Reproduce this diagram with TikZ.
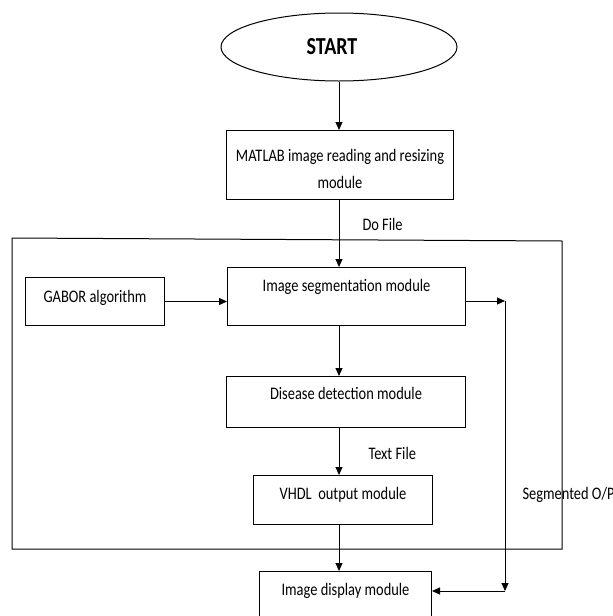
\documentclass[tikz,border=0pt]{standalone}
\usepackage{fontspec}
\setmainfont{Carlito}[FakeStretch=0.82]
\usetikzlibrary{arrows.meta,shapes.geometric}
\begin{document}
\begin{tikzpicture}[x=1pt,y=-1pt,
  line width=1pt,
  every node/.style={font=\fontsize{17.6}{21}\selectfont},
  box/.style={draw, inner sep=0pt, anchor=north west},
  lbl/.style={inner sep=0pt, anchor=base west},
  arr/.style={-{Triangle[length=8pt,width=7pt]}}]
\useasboundingbox (0,0) rectangle (613,616);
% outer frame
\draw (12,238) -- (562,241) -- (562,549) -- (12,549) -- cycle;
\node[draw, ellipse, inner sep=0pt, minimum width=236pt, minimum height=68pt,
      font=\fontsize{24.4}{28}\selectfont\bfseries] (start) at (339,47) {\kern-14pt START};
\node[box, minimum width=227pt, text height=30.5pt, text depth=38.5pt] (matlab) at (226,130)
  {\vtop{\baselineskip=27pt\hbox to 227pt{\hfil MATLAB image reading and resizing\hfil}\hbox to 227pt{\hfil module\hfil}}};
\node[box, minimum width=238pt, text height=23.5pt, text depth=34.5pt] (seg) at (227,267) {Image segmentation module};
\node[box, minimum width=139pt, text height=24.5pt, text depth=23.5pt] (gabor) at (25,277) {GABOR algorithm};
\node[box, minimum width=239pt, text height=22.5pt, text depth=28.5pt] (disease) at (226,376) {Disease detection module};
\node[box, minimum width=179pt, text height=23.5pt, text depth=25.5pt] (vhdl) at (253,475) {VHDL\ \ output module};
\node[box, minimum width=172pt, text height=23.5pt, text depth=36.5pt] (display) at (259,571) {Image display module};
\node[lbl] (dofile) at (362,230.5) {Do File};
\node[lbl] (textfile) at (368,459.5) {Text File};
\node[lbl] (segop) at (522,499.5) {Segmented O/P};
\coordinate (ax) at (339,0);
\coordinate (sp1) at (505,301);
\coordinate (sp2) at (505,591);
\draw[arr] (ax |- start.south) -- (ax |- matlab.north);
\draw[arr] (ax |- matlab.south) -- (ax |- seg.north);
\draw[arr] (ax |- seg.south) -- (ax |- disease.north);
\draw[arr] (ax |- disease.south) -- (ax |- vhdl.north);
\draw[arr] (ax |- vhdl.south) -- (ax |- display.north);
\draw[arr] (gabor.east) -- (gabor.east -| seg.west);
\draw[arr] (sp1 -| seg.east) -- (sp1);
\draw[arr] (sp1) -- (sp2);
\draw[arr] (sp2) -- (sp2 -| display.east);
\end{tikzpicture}
\end{document}
